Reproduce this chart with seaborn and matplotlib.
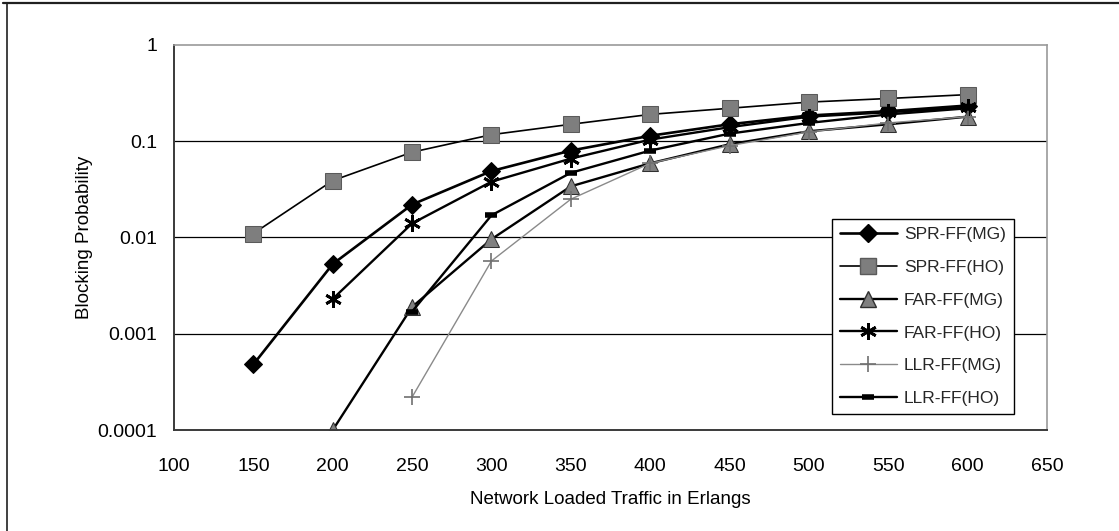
import matplotlib
matplotlib.use("Agg")
import matplotlib.pyplot as plt
from matplotlib.lines import Line2D
import seaborn as sns

# Offered load (Erlangs) and blocking probability per routing scheme
load_spr = [150, 200, 250, 300, 350, 400, 450, 500, 550, 600]
spr_ff_mg = [0.00048, 0.0053, 0.022, 0.049, 0.08, 0.114, 0.15, 0.185, 0.205, 0.235]
spr_ff_ho = [0.011, 0.039, 0.077, 0.117, 0.15, 0.19, 0.22, 0.255, 0.278, 0.305]

load_far = [200, 250, 300, 350, 400, 450, 500, 550, 600]
far_ff_mg = [0.0001, 0.0019, 0.0096, 0.034, 0.059, 0.093, 0.127, 0.15, 0.18]
far_ff_ho = [0.0023, 0.014, 0.038, 0.066, 0.104, 0.14, 0.18, 0.2, 0.225]

load_llr = [250, 300, 350, 400, 450, 500, 550, 600]
llr_ff_mg = [0.00022, 0.0057, 0.025, 0.059, 0.09, 0.125, 0.155, 0.18]
llr_ff_ho = [0.0017, 0.017, 0.047, 0.08, 0.12, 0.155, 0.19, 0.22]

series_names = ["SPR-FF(MG)", "SPR-FF(HO)", "FAR-FF(MG)", "FAR-FF(HO)", "LLR-FF(MG)", "LLR-FF(HO)"]
x_ticks = [100, 150, 200, 250, 300, 350, 400, 450, 500, 550, 600, 650]
y_ticks = [0.0001, 0.001, 0.01, 0.1, 1]
y_tick_labels = ["0.0001", "0.001", "0.01", "0.1", "1"]

sns.set_theme(style="white")
plt.rcParams["font.family"] = ["Liberation Sans", "DejaVu Sans"]

fig = plt.figure(figsize=(11.19, 5.31), dpi=100)
ax = fig.add_axes([0.1555, 0.1902, 0.7802, 0.7251])

styles = [
    dict(x=load_spr, y=spr_ff_mg, color="black", lw=1.9, marker="D", markersize=9,
         markerfacecolor="black", markeredgecolor="black"),
    dict(x=load_spr, y=spr_ff_ho, color="black", lw=1.2, marker="s", markersize=11,
         markerfacecolor="#7e7e7e", markeredgecolor="#5a5a5a"),
    dict(x=load_far, y=far_ff_mg, color="black", lw=1.7, marker="^", markersize=11,
         markerfacecolor="#808080", markeredgecolor="#303030"),
    dict(x=load_far, y=far_ff_ho, color="black", lw=1.7, marker=(6, 2, 0), markersize=12,
         markeredgewidth=2.0, markeredgecolor="black"),
    dict(x=load_llr, y=llr_ff_mg, color="#8a8a8a", lw=1.0, marker="+", markersize=12,
         markeredgewidth=1.2, markeredgecolor="#707070"),
    dict(x=load_llr, y=llr_ff_ho, color="black", lw=1.7, marker="_", markersize=8,
         markeredgewidth=4, markeredgecolor="black"),
]

handles = []
for name, st in zip(series_names, styles):
    st = dict(st)
    xs, ys = st.pop("x"), st.pop("y")
    sns.lineplot(x=xs, y=ys, ax=ax, legend=False, **st)
    handles.append(Line2D([], [], label=name, **st))

ax.set_yscale("log")
ax.set_ylim(0.0001, 1)
ax.set_xlim(100, 650)
ax.set_xticks(x_ticks)
ax.set_xticklabels([str(v) for v in x_ticks])
ax.set_yticks(y_ticks)
ax.set_yticklabels(y_tick_labels)
ax.minorticks_off()

# horizontal gridlines at the decades inside the plot
for yv in y_ticks[1:-1]:
    ax.axhline(yv, color="black", lw=0.9, zorder=0)

ax.tick_params(axis="x", direction="in", length=5, width=0.8, pad=20, labelsize=14,
               colors="black")
ax.tick_params(axis="y", direction="in", length=4, width=0.8, pad=12, labelsize=14,
               colors="black")

for side in ["left", "bottom"]:
    ax.spines[side].set_color("#3a3a3a")
    ax.spines[side].set_linewidth(1.4)
for side in ["top", "right"]:
    ax.spines[side].set_color("#9a9a9a")
    ax.spines[side].set_linewidth(1.2)
    ax.spines[side].set_linestyle((0, (2, 1)))

ax.set_xlabel("Network Loaded Traffic in Erlangs", fontsize=13.5, labelpad=12, color="black")
ax.set_ylabel("Blocking Probability", fontsize=13.5, labelpad=3, color="black")

leg = fig.legend(handles=handles, loc="upper left",
                 bbox_to_anchor=(832 / 1119, 1 - 219 / 531),
                 fontsize=12.5, frameon=True, fancybox=False, framealpha=1,
                 edgecolor="black", handlelength=3.3, handletextpad=0.4,
                 labelspacing=1.02, borderpad=0.45, borderaxespad=0)
leg.get_frame().set_linewidth(1.0)

# outer chart border (left and top edges)
fig.add_artist(Line2D([0.006, 0.006], [0, 0.995], transform=fig.transFigure,
                      color="#202020", lw=1.2))
fig.add_artist(Line2D([0.003, 1.0], [0.995, 0.995], transform=fig.transFigure,
                      color="#202020", lw=1.6))

fig.savefig("out.png", dpi=100, facecolor="white")
